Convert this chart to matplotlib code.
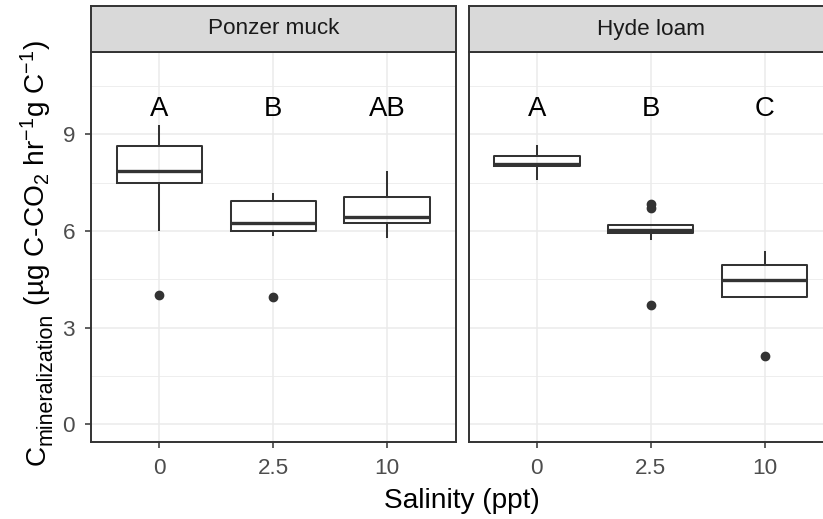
import matplotlib
matplotlib.use("Agg")
import matplotlib.pyplot as plt

plt.rcParams["font.family"] = ["Liberation Sans", "DejaVu Sans"]
plt.rcParams["mathtext.fontset"] = "custom"
plt.rcParams["mathtext.rm"] = "Liberation Sans"
plt.rcParams["mathtext.it"] = "Liberation Sans:italic"
plt.rcParams["mathtext.bf"] = "Liberation Sans:bold"

# data
soils = ["Ponzer muck", "Hyde loam"]
salinity = ["0", "2.5", "10"]
whislo = [[6.04, 5.87, 5.80], [7.62, 5.75, 3.95]]
q1 = [[7.50, 6.00, 6.25], [8.00, 5.94, 3.95]]
med = [[7.86, 6.23, 6.42], [8.06, 6.04, 4.49]]
q3 = [[8.62, 6.93, 7.06], [8.31, 6.19, 4.95]]
whishi = [[9.26, 7.13, 7.83], [8.64, 6.19, 5.34]]
fliers = [[[4.00], [3.95], []], [[], [6.70, 6.82, 3.71], [2.13]]]
letters = [["A", "B", "AB"], ["A", "B", "C"]]

W, H = 823, 519
fig = plt.figure(figsize=(W / 100, H / 100), dpi=100)

dark = "#333333"
panel_top, panel_bot = 52, 442
strip_top = 6
lefts = [91, 468.5]
width = 364.5

for k, soil in enumerate(soils):
    ax = fig.add_axes([lefts[k] / W, (H - panel_bot) / H, width / W,
                       (panel_bot - panel_top) / H])
    sax = fig.add_axes([lefts[k] / W, (H - panel_top) / H, width / W,
                        (panel_top - strip_top) / H])

    stats = []
    for i in range(3):
        stats.append(dict(whislo=whislo[k][i], q1=q1[k][i], med=med[k][i],
                          q3=q3[k][i], whishi=whishi[k][i],
                          fliers=fliers[k][i]))
    ax.bxp(stats, positions=[1, 2, 3], widths=0.75, showcaps=False,
           boxprops=dict(color=dark, linewidth=1.45),
           whiskerprops=dict(color=dark, linewidth=1.45),
           medianprops=dict(color=dark, linewidth=2.4, solid_capstyle="butt"),
           flierprops=dict(marker="o", markerfacecolor=dark,
                           markeredgecolor=dark, markersize=6),
           zorder=3)

    for i, lab in enumerate(letters[k]):
        ax.text(i + 1, 9.57, lab, ha="center", va="baseline",
                fontsize=19.8, color="black")

    ax.set_xlim(0.4, 3.6)
    ax.set_ylim(-0.55, 11.55)
    ax.set_xticks([1, 2, 3])
    ax.set_xticklabels(salinity)
    ax.set_yticks([0, 3, 6, 9])
    ax.set_yticks([1.5, 4.5, 7.5, 10.5], minor=True)
    ax.grid(True, which="major", color="#EBEBEB", linewidth=1.1, zorder=0)
    ax.grid(True, which="minor", axis="y", color="#EBEBEB", linewidth=0.6,
            zorder=0)
    ax.set_axisbelow(True)
    ax.tick_params(which="major", length=4, width=1.1, color=dark,
                   labelsize=16.2, labelcolor="#4D4D4D", pad=7.5)
    ax.tick_params(which="minor", length=0)
    if k == 1:
        ax.tick_params(axis="y", left=False, labelleft=False)
    for sp in ax.spines.values():
        sp.set_color(dark)
        sp.set_linewidth(1.4)

    sax.set_facecolor("#D9D9D9")
    sax.set_xticks([])
    sax.set_yticks([])
    for sp in sax.spines.values():
        sp.set_color(dark)
        sp.set_linewidth(1.4)
    sax.text(0.5, 0.5, soil, ha="center", va="center", fontsize=16.2,
             color="#1A1A1A", transform=sax.transAxes)

fig.text(462 / W, 11 / H, "Salinity (ppt)", ha="center", va="baseline",
         fontsize=20.2)

# y label built from pieces so the subscript keeps ggplot's larger size
renderer = fig.canvas.get_renderer()
base_x = 45
pieces = [("C", 20.2, 0),
          ("mineralization", 15.5, 7),
          (r" (µg C-CO$_2$ hr$^{-1}$g C$^{-1}$)", 20.2, 0)]
y_pos = 54
for txt, size, shift in pieces:
    t = fig.text((base_x + shift) / W, y_pos / H, txt, rotation=90,
                 rotation_mode="anchor", ha="left", va="baseline",
                 fontsize=size)
    y_pos = t.get_window_extent(renderer).y1

fig.savefig("out.png", dpi=100)
